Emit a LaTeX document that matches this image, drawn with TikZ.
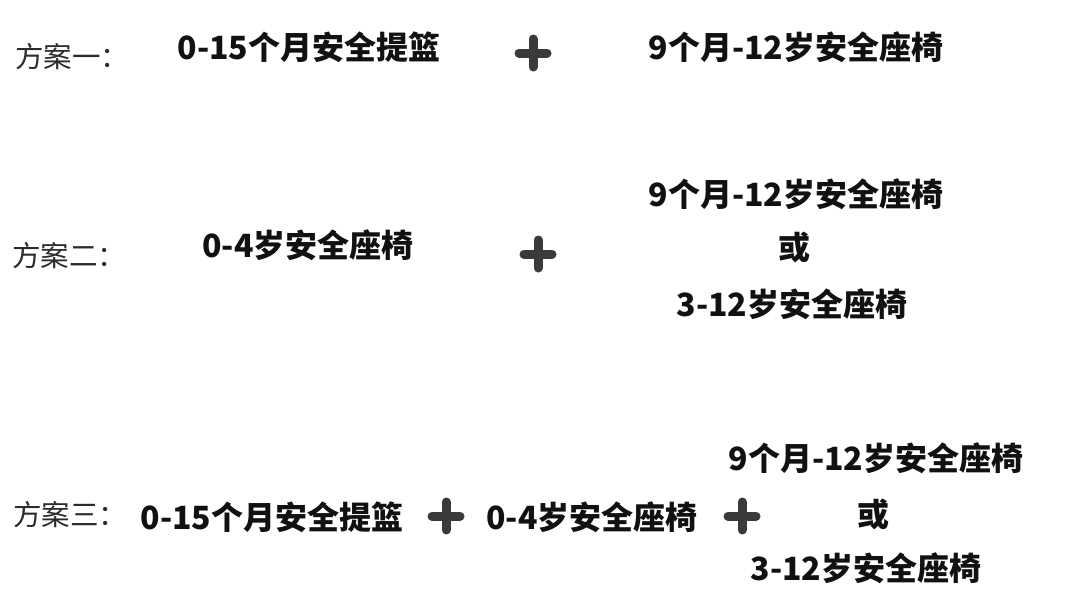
\documentclass[tikz,border=0pt]{standalone}
\usepackage{fontspec}
\newfontfamily\cjk{Noto Sans CJK SC}
\usetikzlibrary{calc}
\definecolor{labelgray}{HTML}{2B2B2B}
\definecolor{plusgray}{HTML}{3A3A3A}
\definecolor{itemblack}{HTML}{111111}

\begin{document}
\begin{tikzpicture}[x=1pt, y=-1pt,
  plan/.style={font=\cjk\fontsize{28.5}{32}\selectfont, text=labelgray, anchor=west,
    inner sep=0pt, text height=24pt, text depth=3pt},
  item/.style={font=\cjk\bfseries\fontsize{32}{36}\selectfont, text=itemblack,
    inner sep=0pt, text height=27pt, text depth=3pt},
  pluscross/.style={draw=plusgray, line width=9pt, line cap=round}]
  \fill[white] (0,0) rectangle (1080,616);
  % 方案一
  \node[plan] (plan1)   at (15,57)  {方案一：};
  \node[item] (basket1) at (309,47) {0-15个月安全提篮};
  \coordinate (plus1)   at (533,53);
  \node[item] (seat1)   at (796,47) {9个月-12岁安全座椅};
  % 方案二
  \node[plan] (plan2)   at (12,256)  {方案二：};
  \node[item] (seat2a)  at (308,245) {0-4岁安全座椅};
  \coordinate (plus2)   at (538,254);
  \node[item] (seat2b)  at (796,194) {9个月-12岁安全座椅};
  \node[item] (or2)     at (794,247) {或};
  \node[item] (seat2c)  at (792,304) {3-12岁安全座椅};
  % 方案三
  \node[plan] (plan3)   at (13,515)  {方案三：};
  \node[item] (basket3) at (272,517) {0-15个月安全提篮};
  \coordinate (plus3)   at (446,516);
  \node[item] (seat3a)  at (592,517) {0-4岁安全座椅};
  \coordinate (plus4)   at (742,516);
  \node[item] (seat3b)  at (876,458) {9个月-12岁安全座椅};
  \node[item] (or3)     at (873,514) {或};
  \node[item] (seat3c)  at (866,568) {3-12岁安全座椅};
  % 加号
  \foreach \p in {plus1,plus2,plus3,plus4}
    \draw[pluscross] ($(\p)+(-14,0)$) -- ($(\p)+(14,0)$)
                     ($(\p)+(0,-14)$) -- ($(\p)+(0,14)$);
\end{tikzpicture}
\end{document}
